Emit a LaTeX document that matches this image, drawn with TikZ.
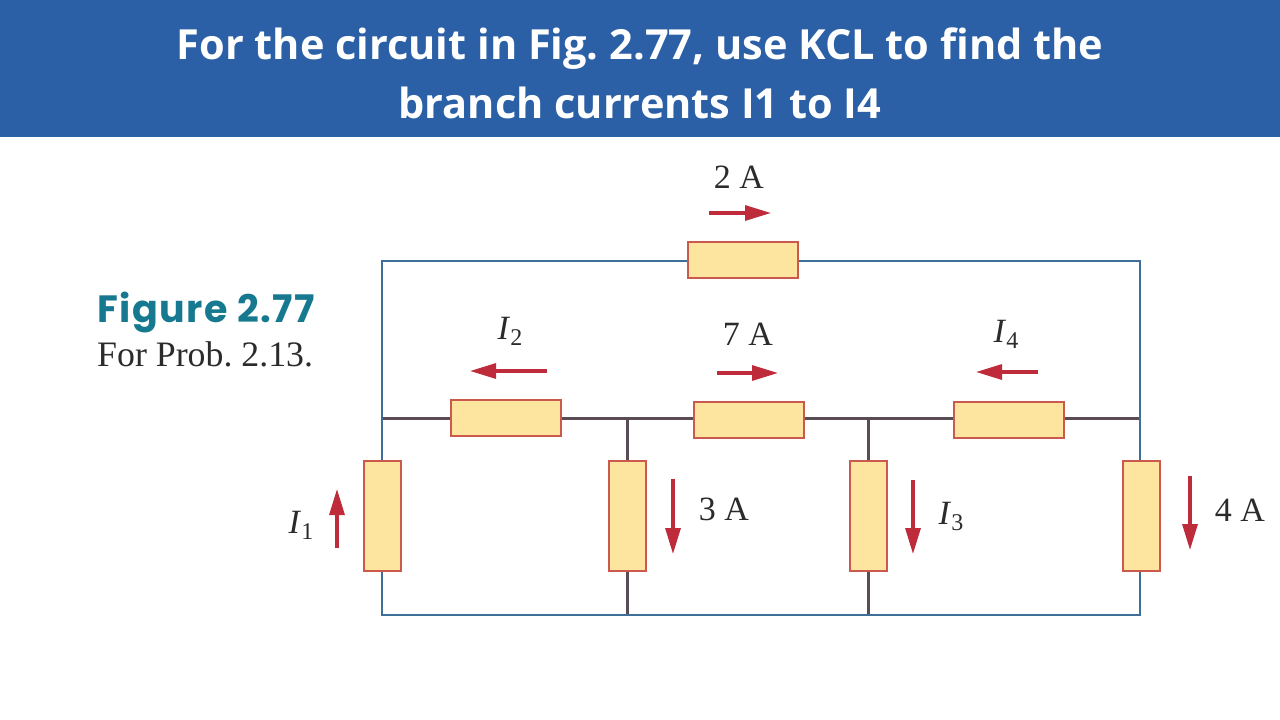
\documentclass[tikz,border=0pt]{standalone}
\usepackage{fontspec}
\setmainfont{Liberation Serif}
\newfontfamily\titlefont{Open Sans}
\newfontfamily\figfont{Poppins}[LetterSpace=4]
\usetikzlibrary{arrows.meta}
\definecolor{banner}{HTML}{2B60A6}
\definecolor{wireblue}{HTML}{3F6E98}
\definecolor{wiredark}{HTML}{5A4C55}
\definecolor{resfill}{HTML}{FDE5A0}
\definecolor{resdraw}{HTML}{CC5A4C}
\definecolor{arrowred}{HTML}{BE2B3A}
\definecolor{figteal}{HTML}{17798F}
\definecolor{labeltext}{HTML}{2B2B2B}
\tikzset{
  x=1pt,y=-1pt,
  hres/.style={draw=resdraw,fill=resfill,line width=2pt,minimum width=110pt,minimum height=36pt,inner sep=0pt,outer sep=0pt},
  vres/.style={draw=resdraw,fill=resfill,line width=2pt,minimum width=37pt,minimum height=110pt,inner sep=0pt,outer sep=0pt},
  bluewire/.style={draw=wireblue,line width=2.6pt},
  darkwire/.style={draw=wiredark,line width=3pt},
  curarrow/.style={draw=arrowred,line width=3.2pt,-{Triangle[length=26pt,width=15pt]}},
  lab/.style={font=\fontsize{34}{38}\selectfont,text=labeltext,inner sep=0pt},
  titletext/.style={font=\titlefont\bfseries\fontsize{41.5}{59}\selectfont,text=white,align=center,inner sep=0pt}
}
\begin{document}
\frenchspacing
\begin{tikzpicture}
\useasboundingbox (0,0) rectangle (1280,720);
\fill[banner] (0,0) rectangle (1280,137);
\node[titletext] (title) at (640,73) {For the circuit in Fig. 2.77, use KCL to find the\\branch currents I1 to I4};
\node[font=\figfont\bfseries\fontsize{38}{42}\selectfont,text=figteal,inner sep=0pt,anchor=west] (figlabel) at (97,313) {Figure 2.77};
\node[font=\fontsize{35.8}{38}\selectfont,text=labeltext,inner sep=0pt,anchor=west] (figcap) at (97,354) {For Prob. 2.13.};

% corners and junctions
\coordinate (tl) at (382,261);
\coordinate (tr) at (1140,261);
\coordinate (ml) at (382,418);
\coordinate (mr) at (1140,418);
\coordinate (bl) at (382,615);
\coordinate (br) at (1140,615);
\coordinate (ja) at (627,418);
\coordinate (jb) at (868,418);
\coordinate (ka) at (627,615);
\coordinate (kb) at (868,615);

% wires
\draw[darkwire] (ja) -- (ka);
\draw[darkwire] (jb) -- (kb);
\draw[darkwire] (ml) -- (mr);
\draw[bluewire,line join=miter] (ml) -- (tl) -- (tr) -- (mr);
\draw[bluewire] (ml) -- (382,460);
\draw[bluewire] (1140,418) -- (1140,460);
\draw[bluewire] (382,571) -- (bl) -- (br) -- (1140,571);

% resistors
\node[hres] (rtop) at (742.5,259.5) {};
\node[hres] (rm1) at (505.5,418) {};
\node[hres] (rm2) at (748.5,419.5) {};
\node[hres] (rm3) at (1008.5,419.5) {};
\node[vres] (rv1) at (382,515.5) {};
\node[vres] (rv2) at (627,515.5) {};
\node[vres] (rv3) at (868.5,515.5) {};
\node[vres] (rv4) at (1141,515.5) {};

% current arrows
\coordinate (a1s) at (709,213); \coordinate (a1e) at (771,213);
\coordinate (a2s) at (547,371); \coordinate (a2e) at (470,371);
\coordinate (a3s) at (717,373); \coordinate (a3e) at (778,373);
\coordinate (a4s) at (1038,372); \coordinate (a4e) at (976,372);
\coordinate (a5s) at (337,548); \coordinate (a5e) at (337,489);
\coordinate (a6s) at (673,479); \coordinate (a6e) at (673,554);
\coordinate (a7s) at (913,480); \coordinate (a7e) at (913,554);
\coordinate (a8s) at (1190,476); \coordinate (a8e) at (1190,550);
\foreach \n in {1,...,8} \draw[curarrow] (a\n s) -- (a\n e);

% labels
\node[lab] (l2a) at (739,177) {2 A};
\node[lab] (li2) at (510,331) {\textit{I}\raisebox{-6pt}{\fontsize{24}{26}\selectfont 2}};
\node[lab] (l7a) at (748,334) {7 A};
\node[lab] (li4) at (1006,334) {\textit{I}\raisebox{-6pt}{\fontsize{24}{26}\selectfont 4}};
\node[lab] (li1) at (301,525) {\textit{I}\raisebox{-6pt}{\fontsize{24}{26}\selectfont 1}};
\node[lab] (l3a) at (724,509) {3 A};
\node[lab] (li3) at (951,516) {\textit{I}\raisebox{-6pt}{\fontsize{24}{26}\selectfont 3}};
\node[lab] (l4a) at (1240,510) {4 A};
\end{tikzpicture}
\end{document}
